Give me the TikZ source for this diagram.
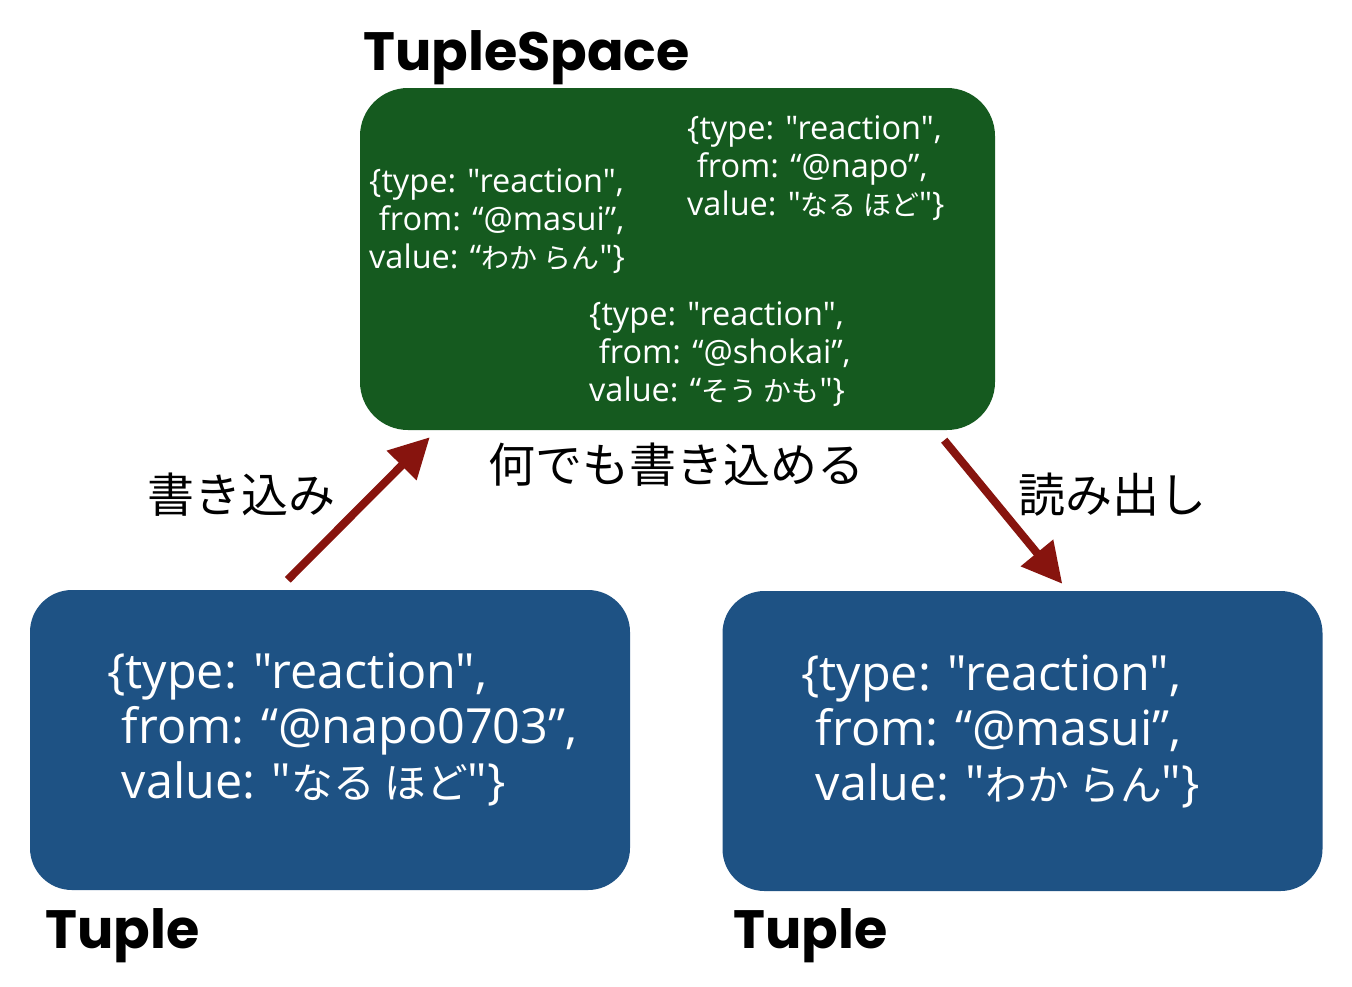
\documentclass[tikz,border=0pt]{standalone}
\usepackage{fontspec}
\setmainfont{Open Sans}[Ligatures=TeXOff]
\newfontfamily\jp{Noto Sans CJK JP}
\newfontfamily\jpin{Noto Sans CJK JP}[Scale=0.86]
\newfontfamily\ttl{Poppins}
\usetikzlibrary{arrows.meta,calc}
\definecolor{tsgreen}{RGB}{21,90,31}
\definecolor{tupblue}{RGB}{30,82,132}
\definecolor{arrred}{RGB}{135,20,14}
\newcommand\jpt[2]{{\jpin #1}\hspace{0.2em}{\jpin #2}}
\begin{document}
\begin{tikzpicture}[x=1pt,y=-1pt,
  gbox/.style={fill=tsgreen, rounded corners=48pt, inner sep=0pt, minimum width=635pt, minimum height=342pt},
  bbox/.style={fill=tupblue, rounded corners=42pt, inner sep=0pt, minimum width=600pt, minimum height=300pt},
  smalltxt/.style={text=white, align=left, inner sep=0pt, font=\fontsize{32.5}{38}\selectfont},
  bigtxt/.style={text=white, align=left, inner sep=0pt, font=\fontsize{48.5}{55}\selectfont},
  title/.style={inner sep=0pt, font=\ttl\bfseries\fontsize{54}{60}\selectfont},
  jlabel/.style={inner sep=0pt, font=\jp\fontsize{47}{50}\selectfont},
  arr/.style={draw=arrred, line width=8pt, -{Triangle[length=40pt,width=40pt]}}
]
\useasboundingbox (0,0) rectangle (1352,986);

\node[gbox] (ts) at (677.5,259) {};
\node[bbox] (t1) at (330,740) {};
\node[bbox] (t2) at (1022.5,741) {};

\node[title, anchor=base west] (tsl) at (363,70) {TupleSpace};
\node[title, anchor=base west] (t1l) at (45,948) {Tuple};
\node[title, anchor=base west] (t2l) at (733,948) {Tuple};

\node[smalltxt, anchor=west] (m1) at (369,221) {\{type: "reaction",\\\hspace*{0.3em}from: “@masui”,\\value: “\jpt{わか}{らん}"\}};
\node[smalltxt, anchor=west] (m2) at (687,168) {\{type: "reaction",\\\hspace*{0.3em}from: “@napo”,\\value: "\jpt{なる}{ほど}"\}};
\node[smalltxt, anchor=west] (m3) at (589,354) {\{type: "reaction",\\\hspace*{0.3em}from: “@shokai”,\\value: “\jpt{そう}{かも}"\}};

\node[bigtxt, anchor=west] (b1) at (107,730) {\{type: "reaction",\\\hspace*{0.3em}from: “@napo0703”,\\\hspace*{0.3em}value: "\jpt{なる}{ほど}"\}};
\node[bigtxt, anchor=west] (b2) at (801,732) {\{type: "reaction",\\\hspace*{0.3em}from: “@masui”,\\\hspace*{0.3em}value: "\jpt{わか}{らん}"\}};

\node[jlabel] (wl) at (241,495) {書き込み};
\node[jlabel] (al) at (676,465) {何でも書き込める};
\node[jlabel] (rl) at (1112,495) {読み出し};

\draw[arr] ($(t1.north west)+(258,-10)$) -- ($(ts.south west)+(70,7)$);
\draw[arr] ($(ts.south east)+(-51,10)$) -- ($(t2.north west)+(340,-7)$);
\end{tikzpicture}
\end{document}
